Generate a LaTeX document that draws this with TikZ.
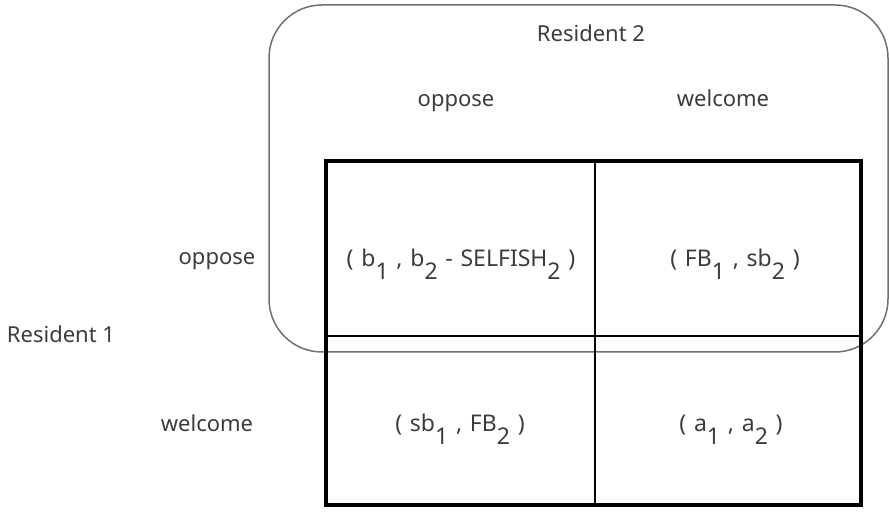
\documentclass[tikz,border=0pt]{standalone}
\usepackage{fontspec}
\setmainfont{Noto Sans}
\newfontfamily\cellfont{Noto Sans}[WordSpace=1.3]
\definecolor{txtgray}{HTML}{3C3C3C}
\definecolor{framegray}{HTML}{707070}
\newcommand{\idx}[1]{\raisebox{-0.55em}{#1}}
\begin{document}
\begin{tikzpicture}[x=0.5pt,y=-0.5pt,
        lbl/.style={text=txtgray, anchor=base, inner sep=0pt, font=\fontsize{11}{13}\selectfont},
        cell/.style={lbl, font=\fontsize{11.5}{13}\cellfont}]
        \useasboundingbox (0,0) rectangle (889,512);

        \draw[framegray, line width=0.75pt, rounded corners=26.5pt] (269,5) rectangle (888,352);

        \draw[line width=1.2pt] (595,161) -- (595,505);
        \draw[line width=1.2pt] (326,336) -- (861,336);
        \draw[line width=2.3pt] (326,161) rectangle (861,505);

        \draw (591,42) node[lbl](res2) {Resident 2};
        \draw (456,107) node[lbl](colopp) {oppose};
        \draw (723,107) node[lbl](colwel) {welcome};

        \draw (61,343) node[lbl](res1) {Resident 1};
        \draw (217,265) node[lbl](rowopp) {oppose};
        \draw (207,432) node[lbl](rowwel) {welcome};

        \draw (461,267) node[cell](oo) {( b\idx{1} , b\idx{2} - SELFISH\idx{2} )};
        \draw (735,267) node[cell](ow) {( FB\idx{1} , sb\idx{2} )};
        \draw (460,432) node[cell](wo) {( sb\idx{1} , FB\idx{2} )};
        \draw (731,432) node[cell](ww) {( a\idx{1} , a\idx{2} )};
    \end{tikzpicture}
\end{document}
